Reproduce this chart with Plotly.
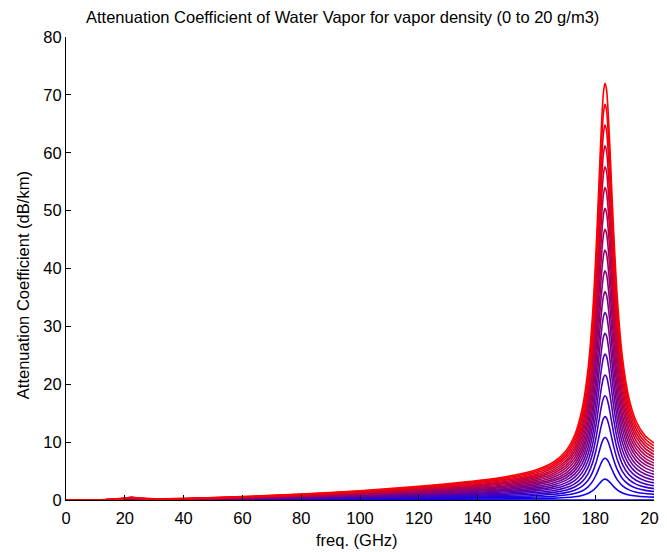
import plotly.graph_objects as go

# frequency grid (GHz)
freq = [0, 15, 20, 22.2, 24.5, 30, 45, 60, 80, 100, 120, 140, 150, 160, 166, 170, 173, 175.5,
        177.5, 179, 180.3, 181.3, 182.1, 182.8, 183.3, 183.8, 184.5, 185.3, 186.3, 187.6,
        189.3, 191.5, 194, 197, 200]

# vapor densities (g/m3)
densities = list(range(0, 21))

# attenuation (dB/km) read per vapor density
rho_00 = [0] * 35
rho_01 = [0, 0.00, 0.02, 0.02, 0.02, 0.01, 0.02, 0.03, 0.05, 0.08, 0.12, 0.17, 0.20, 0.26, 0.33, 0.42, 0.56, 0.78, 1.12, 1.56, 2.16, 2.75, 3.22, 3.52, 3.60, 3.56, 3.31, 2.88, 2.31, 1.72, 1.22, 0.88, 0.68, 0.55, 0.49]
rho_02 = [0, 0.01, 0.03, 0.05, 0.03, 0.02, 0.03, 0.06, 0.10, 0.16, 0.24, 0.34, 0.41, 0.52, 0.66, 0.85, 1.12, 1.56, 2.24, 3.13, 4.32, 5.50, 6.45, 7.03, 7.20, 7.11, 6.62, 5.75, 4.61, 3.43, 2.45, 1.75, 1.35, 1.11, 0.98]
rho_03 = [0, 0.01, 0.05, 0.07, 0.05, 0.03, 0.05, 0.09, 0.15, 0.24, 0.35, 0.50, 0.61, 0.78, 0.99, 1.27, 1.68, 2.34, 3.35, 4.69, 6.48, 8.26, 9.67, 10.55, 10.80, 10.67, 9.93, 8.63, 6.92, 5.15, 3.67, 2.63, 2.03, 1.66, 1.47]
rho_04 = [0, 0.02, 0.06, 0.10, 0.07, 0.04, 0.07, 0.12, 0.20, 0.32, 0.47, 0.67, 0.81, 1.04, 1.32, 1.69, 2.24, 3.12, 4.47, 6.25, 8.64, 11.01, 12.89, 14.07, 14.40, 14.22, 13.24, 11.50, 9.23, 6.87, 4.89, 3.51, 2.70, 2.22, 1.97]
rho_05 = [0, 0.02, 0.08, 0.12, 0.09, 0.05, 0.08, 0.14, 0.26, 0.40, 0.59, 0.84, 1.02, 1.30, 1.65, 2.12, 2.80, 3.90, 5.59, 7.82, 10.80, 13.76, 16.12, 17.59, 18.00, 17.78, 16.55, 14.38, 11.53, 8.58, 6.12, 4.39, 3.38, 2.77, 2.46]
rho_06 = [0, 0.03, 0.10, 0.14, 0.10, 0.06, 0.10, 0.17, 0.31, 0.48, 0.71, 1.01, 1.22, 1.57, 1.98, 2.54, 3.35, 4.68, 6.71, 9.38, 12.96, 16.51, 19.34, 21.10, 21.60, 21.34, 19.85, 17.25, 13.84, 10.30, 7.34, 5.26, 4.06, 3.33, 2.95]
rho_07 = [0, 0.03, 0.11, 0.17, 0.12, 0.07, 0.11, 0.20, 0.36, 0.56, 0.83, 1.17, 1.42, 1.83, 2.31, 2.96, 3.91, 5.46, 7.83, 10.94, 15.12, 19.26, 22.56, 24.62, 25.20, 24.89, 23.16, 20.13, 16.15, 12.02, 8.56, 6.14, 4.73, 3.88, 3.44]
rho_08 = [0, 0.04, 0.13, 0.19, 0.14, 0.08, 0.13, 0.23, 0.41, 0.65, 0.94, 1.34, 1.62, 2.09, 2.64, 3.39, 4.47, 6.24, 8.94, 12.50, 17.28, 22.02, 25.78, 28.14, 28.80, 28.45, 26.47, 23.00, 18.45, 13.73, 9.79, 7.02, 5.41, 4.44, 3.93]
rho_09 = [0, 0.04, 0.14, 0.22, 0.16, 0.09, 0.15, 0.26, 0.46, 0.73, 1.06, 1.51, 1.83, 2.35, 2.97, 3.81, 5.03, 7.02, 10.06, 14.07, 19.44, 24.77, 29.01, 31.65, 32.40, 32.00, 29.78, 25.88, 20.76, 15.45, 11.01, 7.89, 6.08, 4.99, 4.42]
rho_10 = [0, 0.05, 0.16, 0.24, 0.17, 0.10, 0.16, 0.29, 0.51, 0.81, 1.18, 1.68, 2.03, 2.61, 3.31, 4.23, 5.59, 7.80, 11.18, 15.63, 21.60, 27.52, 32.23, 35.17, 36.00, 35.56, 33.09, 28.75, 23.07, 17.17, 12.24, 8.77, 6.76, 5.55, 4.92]
rho_11 = [0, 0.05, 0.18, 0.26, 0.19, 0.11, 0.18, 0.32, 0.56, 0.89, 1.30, 1.84, 2.23, 2.87, 3.64, 4.66, 6.15, 8.57, 12.30, 17.19, 23.76, 30.27, 35.45, 38.69, 39.59, 39.12, 36.40, 31.63, 25.37, 18.88, 13.46, 9.65, 7.44, 6.10, 5.41]
rho_12 = [0, 0.06, 0.19, 0.29, 0.21, 0.12, 0.20, 0.35, 0.61, 0.97, 1.42, 2.01, 2.44, 3.13, 3.97, 5.08, 6.71, 9.35, 13.42, 18.76, 25.92, 33.02, 38.68, 42.20, 43.19, 42.67, 39.71, 34.50, 27.68, 20.60, 14.68, 10.52, 8.11, 6.65, 5.90]
rho_13 = [0, 0.06, 0.21, 0.31, 0.23, 0.13, 0.21, 0.37, 0.67, 1.05, 1.53, 2.18, 2.64, 3.39, 4.30, 5.50, 7.27, 10.13, 14.53, 20.32, 28.08, 35.78, 41.90, 45.72, 46.79, 46.23, 43.02, 37.38, 29.98, 22.31, 15.91, 11.40, 8.79, 7.21, 6.39]
rho_14 = [0, 0.07, 0.22, 0.33, 0.24, 0.14, 0.23, 0.40, 0.72, 1.13, 1.65, 2.35, 2.84, 3.65, 4.63, 5.93, 7.83, 10.91, 15.65, 21.88, 30.24, 38.53, 45.12, 49.24, 50.39, 49.78, 46.33, 40.25, 32.29, 24.03, 17.13, 12.28, 9.46, 7.76, 6.88]
rho_15 = [0, 0.07, 0.24, 0.36, 0.26, 0.15, 0.25, 0.43, 0.77, 1.21, 1.77, 2.52, 3.05, 3.91, 4.96, 6.35, 8.39, 11.69, 16.77, 23.45, 32.40, 41.28, 48.35, 52.76, 53.99, 53.34, 49.64, 43.13, 34.60, 25.75, 18.35, 13.16, 10.14, 8.32, 7.37]
rho_16 = [0, 0.08, 0.26, 0.38, 0.28, 0.16, 0.26, 0.46, 0.82, 1.29, 1.89, 2.68, 3.25, 4.17, 5.29, 6.77, 8.94, 12.47, 17.89, 25.01, 34.56, 44.03, 51.57, 56.27, 57.59, 56.90, 52.94, 46.00, 36.90, 27.46, 19.58, 14.03, 10.82, 8.87, 7.86]
rho_17 = [0, 0.08, 0.27, 0.41, 0.30, 0.17, 0.28, 0.49, 0.87, 1.37, 2.01, 2.85, 3.45, 4.43, 5.62, 7.20, 9.50, 13.25, 19.01, 26.57, 36.72, 46.78, 54.79, 59.79, 61.19, 60.45, 56.25, 48.88, 39.21, 29.18, 20.80, 14.91, 11.49, 9.43, 8.36]
rho_18 = [0, 0.08, 0.29, 0.43, 0.31, 0.18, 0.30, 0.52, 0.92, 1.45, 2.12, 3.02, 3.65, 4.70, 5.95, 7.62, 10.06, 14.03, 20.12, 28.13, 38.88, 49.54, 58.01, 63.31, 64.79, 64.01, 59.56, 51.75, 41.52, 30.90, 22.02, 15.79, 12.17, 9.98, 8.85]
rho_19 = [0, 0.09, 0.30, 0.45, 0.33, 0.19, 0.31, 0.55, 0.97, 1.53, 2.24, 3.19, 3.86, 4.96, 6.28, 8.04, 10.62, 14.81, 21.24, 29.70, 41.04, 52.29, 61.24, 66.82, 68.39, 67.56, 62.87, 54.63, 43.82, 32.61, 23.25, 16.66, 12.84, 10.54, 9.34]
rho_20 = [0, 0.09, 0.32, 0.48, 0.35, 0.20, 0.33, 0.58, 1.02, 1.61, 2.36, 3.35, 4.06, 5.22, 6.61, 8.47, 11.18, 15.59, 22.36, 31.26, 43.20, 55.04, 64.46, 70.34, 71.99, 71.12, 66.18, 57.50, 46.13, 34.33, 24.47, 17.54, 13.52, 11.09, 9.83]

curves = [rho_00, rho_01, rho_02, rho_03, rho_04, rho_05, rho_06, rho_07, rho_08, rho_09, rho_10,
          rho_11, rho_12, rho_13, rho_14, rho_15, rho_16, rho_17, rho_18, rho_19, rho_20]

x_ticks = [0, 20, 40, 60, 80, 100, 120, 140, 160, 180, 200]
y_ticks = [0, 10, 20, 30, 40, 50, 60, 70, 80]

FONT = "Liberation Sans, Arial, sans-serif"
FS = 16.5

fig = go.Figure()
n = len(densities) - 1
for rho, vals in zip(densities, curves):
    t = rho / n
    color = f"rgb({int(round(255 * t))},0,{int(round(255 * (1 - t)))})"
    fig.add_trace(go.Scatter(
        x=freq, y=vals, mode="lines",
        line=dict(color=color, width=1.6, shape="spline", smoothing=0.8),
        name=f"{rho} g/m3", hoverinfo="skip", showlegend=False,
    ))

# the page body keeps an 8 px margin, so the figure is 8 px smaller than the window
fig.update_layout(
    width=659, height=544,
    margin=dict(l=58, r=13, t=29, b=52, autoexpand=False),
    paper_bgcolor="white", plot_bgcolor="white",
    font=dict(family=FONT, size=FS, color="black"),
    showlegend=False,
)
fig.update_xaxes(
    range=[0, 200], tickvals=x_ticks, ticktext=[str(v) for v in x_ticks],
    showline=True, linecolor="black", linewidth=1, mirror=False, automargin=False,
    ticks="inside", ticklen=5, tickcolor="black", showgrid=False, zeroline=False,
    tickfont=dict(size=FS), ticklabelstandoff=3, ticklabeloverflow="allow",
)
fig.update_yaxes(
    range=[0, 80], tickvals=y_ticks, ticktext=[str(v) for v in y_ticks],
    showline=True, linecolor="black", linewidth=1, mirror=False, automargin=False,
    ticks="inside", ticklen=5, tickcolor="black", showgrid=False, zeroline=False,
    tickfont=dict(size=FS), ticklabeloverflow="allow",
)
fig.add_annotation(text="Attenuation Coefficient of Water Vapor for vapor density (0 to 20 g/m3)",
                   xref="paper", yref="paper", x=0.471, y=1.043, showarrow=False,
                   xanchor="center", yanchor="middle", font=dict(size=FS))
fig.add_annotation(text="Attenuation Coefficient (dB/km)", xref="paper", yref="paper",
                   x=-0.0731, y=0.464, textangle=-90, showarrow=False,
                   xanchor="center", yanchor="middle", font=dict(size=FS))
fig.add_annotation(text="freq. (GHz)", xref="paper", yref="paper", x=0.495, y=-0.0864,
                   showarrow=False, xanchor="center", yanchor="middle", font=dict(size=FS))

fig.write_html("out.html")
